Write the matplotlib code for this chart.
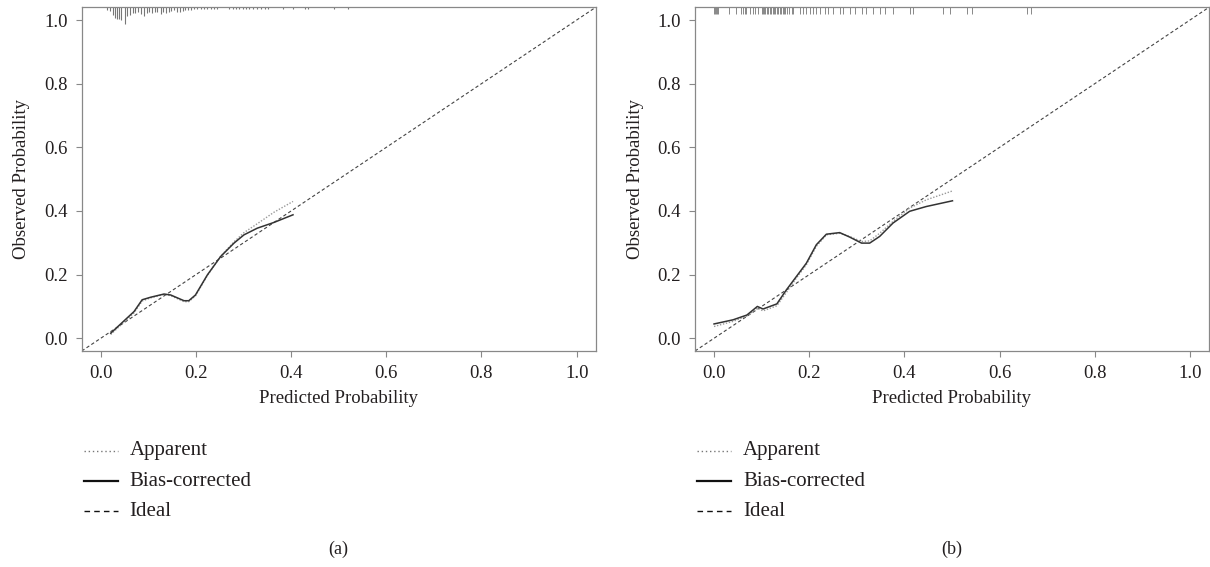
import matplotlib
matplotlib.use("Agg")
import matplotlib.pyplot as plt
from matplotlib.lines import Line2D

plt.rcParams["font.family"] = ["Liberation Serif", "DejaVu Serif"]

# panel (a) calibration curves
a_pred = [0.021, 0.070, 0.087, 0.105, 0.133, 0.147, 0.175, 0.185, 0.199, 0.224,
          0.252, 0.280, 0.301, 0.329, 0.364, 0.404]
a_bias = [0.016, 0.084, 0.121, 0.129, 0.139, 0.136, 0.118, 0.118, 0.136, 0.199,
          0.257, 0.299, 0.325, 0.346, 0.364, 0.388]
a_appar = [0.012, 0.080, 0.117, 0.127, 0.138, 0.134, 0.115, 0.115, 0.133, 0.197,
           0.258, 0.303, 0.332, 0.360, 0.396, 0.430]

# panel (a) spike histogram of predictions (x, spike length)
a_spike_x = [0.014, 0.020, 0.025, 0.029, 0.034, 0.038, 0.043, 0.050, 0.056, 0.062,
             0.067, 0.073, 0.078, 0.084, 0.091, 0.097, 0.102, 0.108, 0.113, 0.119,
             0.126, 0.131, 0.137, 0.143, 0.148, 0.154, 0.161, 0.166, 0.172, 0.178,
             0.183, 0.189, 0.196, 0.203, 0.210, 0.217, 0.224, 0.231, 0.238, 0.245,
             0.270, 0.277, 0.284, 0.291, 0.298, 0.305, 0.312, 0.320, 0.328, 0.336,
             0.345, 0.352, 0.384, 0.405, 0.430, 0.436, 0.490, 0.520]
a_spike_h = [0.009, 0.013, 0.025, 0.035, 0.038, 0.038, 0.041, 0.053, 0.028, 0.024,
             0.019, 0.017, 0.014, 0.021, 0.027, 0.017, 0.014, 0.019, 0.014, 0.014,
             0.021, 0.015, 0.017, 0.014, 0.013, 0.010, 0.014, 0.014, 0.012, 0.010,
             0.009, 0.009, 0.005, 0.005, 0.005, 0.005, 0.005, 0.005, 0.005, 0.005,
             0.005, 0.005, 0.005, 0.005, 0.005, 0.005, 0.005, 0.005, 0.005, 0.005,
             0.005, 0.005, 0.005, 0.005, 0.005, 0.005, 0.005, 0.005]

# panel (b) calibration curves
b_pred = [0.000, 0.040, 0.069, 0.091, 0.103, 0.132, 0.152, 0.173, 0.194, 0.215,
          0.236, 0.264, 0.285, 0.310, 0.327, 0.348, 0.376, 0.411, 0.446, 0.501]
b_bias = [0.045, 0.058, 0.073, 0.100, 0.092, 0.108, 0.152, 0.194, 0.236, 0.294,
          0.327, 0.332, 0.318, 0.299, 0.299, 0.320, 0.362, 0.399, 0.414, 0.432]
b_appar = [0.037, 0.053, 0.070, 0.095, 0.086, 0.102, 0.144, 0.189, 0.231, 0.289,
           0.325, 0.330, 0.320, 0.304, 0.306, 0.330, 0.367, 0.409, 0.435, 0.463]

# panel (b) rug of predictions
b_rug = [0.000, 0.002, 0.004, 0.006, 0.008, 0.032, 0.047, 0.056, 0.061, 0.065,
         0.068, 0.075, 0.082, 0.086, 0.093, 0.100, 0.103, 0.106, 0.108, 0.111,
         0.114, 0.117, 0.120, 0.123, 0.126, 0.129, 0.132, 0.135, 0.138, 0.141,
         0.144, 0.147, 0.150, 0.154, 0.158, 0.163, 0.166, 0.180, 0.187, 0.194,
         0.201, 0.208, 0.215, 0.222, 0.233, 0.240, 0.250, 0.264, 0.271, 0.285,
         0.296, 0.310, 0.320, 0.334, 0.348, 0.359, 0.376, 0.411, 0.418, 0.481,
         0.495, 0.531, 0.543, 0.657, 0.667]

legend_labels = ["Apparent", "Bias-corrected", "Ideal"]
ticks = [0.0, 0.2, 0.4, 0.6, 0.8, 1.0]
txt = "#231f20"
W, H = 1210, 567

fig = plt.figure(figsize=(12.1, 5.67), dpi=100)
ax_a = fig.add_axes([81.7 / W, 1 - 351 / H, 514 / W, 343.7 / H])
ax_b = fig.add_axes([695 / W, 1 - 351 / H, 514 / W, 343.7 / H])

for ax, px, bias, appar, cap in [(ax_a, a_pred, a_bias, a_appar, "(a)"),
                                 (ax_b, b_pred, b_bias, b_appar, "(b)")]:
    ax.set_xlim(-0.04, 1.04)
    ax.set_ylim(-0.04, 1.04)
    ax.axline((0, 0), slope=1, color="#444444", lw=0.8, dashes=(3, 2.2))
    ax.plot(px, appar, color="#999999", lw=1.0, linestyle=(0, (1, 1.2)))
    ax.plot(px, bias, color="#333333", lw=1.1)
    ax.set_xticks(ticks)
    ax.set_yticks(ticks)
    ax.set_xticklabels([f"{t:.1f}" for t in ticks])
    ax.set_yticklabels([f"{t:.1f}" for t in ticks])
    ax.tick_params(direction="out", length=4, width=0.8, color="#888888",
                   labelsize=13.5, labelcolor=txt, pad=6)
    for s in ax.spines.values():
        s.set_color("#888888")
        s.set_linewidth(0.9)
    ax.set_xlabel("Predicted Probability", fontsize=13.5, color=txt, labelpad=6)
    ax.set_ylabel("Observed Probability", fontsize=13.5, color=txt, labelpad=10)

    # legend below the axes
    left = ax.get_position().x0 * W
    rows = [451, 481, 511]
    styles = [dict(color="#777777", lw=1.0, linestyle=(0, (1, 2))),
              dict(color="#111111", lw=1.6),
              dict(color="#111111", lw=1.0, dashes=(4, 3))]
    for yy, lab, st in zip(rows, legend_labels, styles):
        fig.add_artist(Line2D([(left + 2) / W, (left + 36) / W],
                              [1 - yy / H, 1 - yy / H],
                              transform=fig.transFigure, **st))
        fig.text((left + 48) / W, 1 - yy / H, lab, fontsize=15, color=txt,
                 va="center", ha="left")
    centre = (ax.get_position().x0 + ax.get_position().x1) / 2
    fig.text(centre, 1 - 549 / H, cap, fontsize=13, color=txt,
             ha="center", va="center")

ax_a.vlines(a_spike_x, [1.04 - h for h in a_spike_h], 1.04,
            color="#777777", lw=0.8)
ax_b.vlines(b_rug, 1.04 - 0.02, 1.04, color="#888888", lw=0.7)

fig.savefig("out.png", dpi=100)
